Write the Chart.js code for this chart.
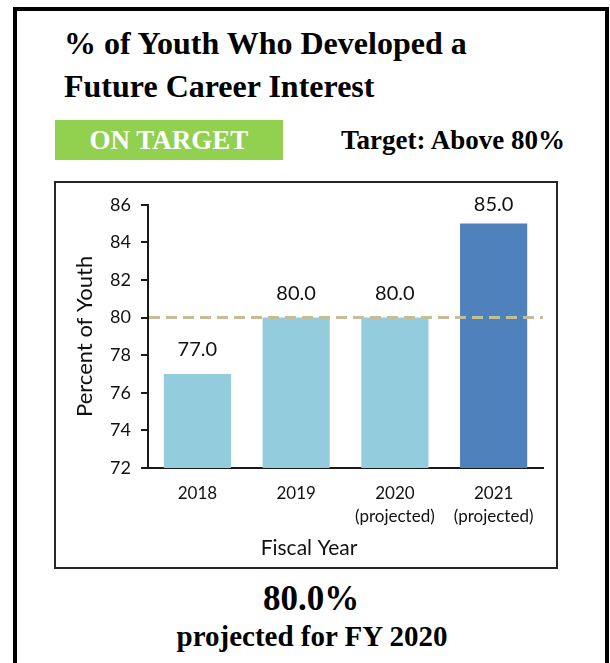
<!DOCTYPE html>
<html>
<head>
<meta charset="utf-8">
<script src="https://cdn.jsdelivr.net/npm/chart.js@4.4.1/dist/chart.umd.min.js"></script>
<style>
  html, body { margin: 0; padding: 0; background: #fff; }
  body { width: 610px; height: 663px; position: relative; overflow: hidden; }
  .serif { font-family: "Liberation Serif", "Times New Roman", serif; font-weight: bold; color: #000; }
  #frame { position: absolute; left: 13px; top: 7px; width: 596px; height: 720px; border: 4px solid #000; box-sizing: border-box; }
  #title { position: absolute; left: 64px; top: 22px; font-size: 32px; line-height: 43px; white-space: nowrap; }
  #status { position: absolute; left: 55px; top: 120px; width: 228px; height: 40px; background: #92D050; color: #fff;
            font-size: 27px; line-height: 40px; text-align: center; white-space: nowrap; }
  #target { position: absolute; left: 341px; top: 120px; font-size: 27px; line-height: 40px; white-space: nowrap; }
  #chartBox { position: absolute; left: 54px; top: 181px; width: 504px; height: 388px; border: 2px solid #262626; box-sizing: border-box; background: #fff; }
  #chartWrap { position: absolute; left: 57px; top: 184px; width: 498px; height: 382px; }
  #big { position: absolute; left: 0; width: 622px; top: 579px; font-size: 35px; line-height: 40px; text-align: center; }
  #sub { position: absolute; left: 0; width: 624px; top: 619px; font-size: 29px; line-height: 34px; text-align: center; }
</style>
</head>
<body>
<div id="frame"></div>
<div id="title" class="serif">% of Youth Who Developed a<br>Future Career Interest</div>
<div id="status" class="serif">ON TARGET</div>
<div id="target" class="serif">Target: Above 80%</div>
<div id="chartBox"></div>
<div id="chartWrap"><canvas id="chart" width="498" height="382"></canvas></div>
<div id="big" class="serif">80.0%</div>
<div id="sub" class="serif">projected for FY 2020</div>

<script>
// Fiscal years and the share of youth who developed a future career interest
const years = ["2018", "2019", "2020", "2021"];
const yearNotes = ["", "", "(projected)", "(projected)"];
const percentYouth = [77.0, 80.0, 80.0, 85.0];
const barColors = ["#93CDDD", "#93CDDD", "#93CDDD", "#4F81BD"];
const targetValue = 80;
const yTicks = [72, 74, 76, 78, 80, 82, 84, 86];
const xAxisTitle = "Fiscal Year";

const categoryLabels = years.map((y, i) => yearNotes[i] ? [y, yearNotes[i]] : y);

const sansFont = "Lato, 'Open Sans', sans-serif";
const axisInk = "#1a1a1a";

// Dashed target line across the plot, drawn over the bars
const targetLine = {
  id: "targetLine",
  afterDatasetsDraw(chart) {
    const { ctx, chartArea, scales } = chart;
    const y = scales.y.getPixelForValue(targetValue);
    ctx.save();
    ctx.strokeStyle = "#C4BD97";
    ctx.lineWidth = 3;
    ctx.setLineDash([11, 6]);
    ctx.beginPath();
    ctx.moveTo(chartArea.left + 1, y);
    ctx.lineTo(chartArea.right, y);
    ctx.stroke();
    ctx.restore();
  }
};

// Value labels above each bar
const valueLabels = {
  id: "valueLabels",
  afterDatasetsDraw(chart) {
    const { ctx, chartArea } = chart;
    const meta = chart.getDatasetMeta(0);
    ctx.save();
    ctx.font = "20px " + sansFont;
    ctx.fillStyle = "#111";
    ctx.textAlign = "center";
    ctx.textBaseline = "middle";
    meta.data.forEach((bar, i) => {
      const cy = Math.max(bar.y - 24, chartArea.top);
      ctx.fillText(percentYouth[i].toFixed(1), bar.x, cy);
    });
    ctx.restore();
  }
};

// Horizontal axis title, centred on the whole chart panel
const xTitle = {
  id: "xTitle",
  afterDraw(chart) {
    const { ctx, width } = chart;
    ctx.save();
    ctx.font = "21px " + sansFont;
    ctx.fillStyle = "#111";
    ctx.textAlign = "center";
    ctx.textBaseline = "middle";
    ctx.fillText(xAxisTitle, width / 2 + 3, 364);
    ctx.restore();
  }
};

new Chart(document.getElementById("chart"), {
  type: "bar",
  data: {
    labels: categoryLabels,
    datasets: [{
      data: percentYouth,
      backgroundColor: barColors,
      borderWidth: 0,
      barPercentage: 0.68,
      categoryPercentage: 1.0
    }]
  },
  options: {
    responsive: false,
    animation: false,
    events: [],
    layout: { padding: { left: 0, right: 12, top: 19, bottom: 0 } },
    plugins: { legend: { display: false }, tooltip: { enabled: false } },
    scales: {
      x: {
        grid: { display: false, drawTicks: false },
        border: { display: true, color: axisInk, width: 2 },
        ticks: { color: "#111", padding: 14, font: { family: sansFont, size: 17, lineHeight: 1.35 } },
        afterFit(scale) { scale.height = 98; }
      },
      y: {
        min: 72,
        max: 86,
        afterBuildTicks(scale) { scale.ticks = yTicks.map(v => ({ value: v })); },
        grid: { display: true, drawOnChartArea: false, drawTicks: true, tickLength: 7, color: axisInk, lineWidth: 2 },
        border: { display: true, color: axisInk, width: 2 },
        ticks: { color: "#111", padding: 10, font: { family: sansFont, size: 18 } },
        title: { display: true, text: "Percent of Youth", color: "#111", padding: { top: 15, bottom: 0 },
                 font: { family: sansFont, size: 22 } },
        afterFit(scale) { scale.width = 91; }
      }
    }
  },
  plugins: [targetLine, valueLabels, xTitle]
});
</script>
</body>
</html>
